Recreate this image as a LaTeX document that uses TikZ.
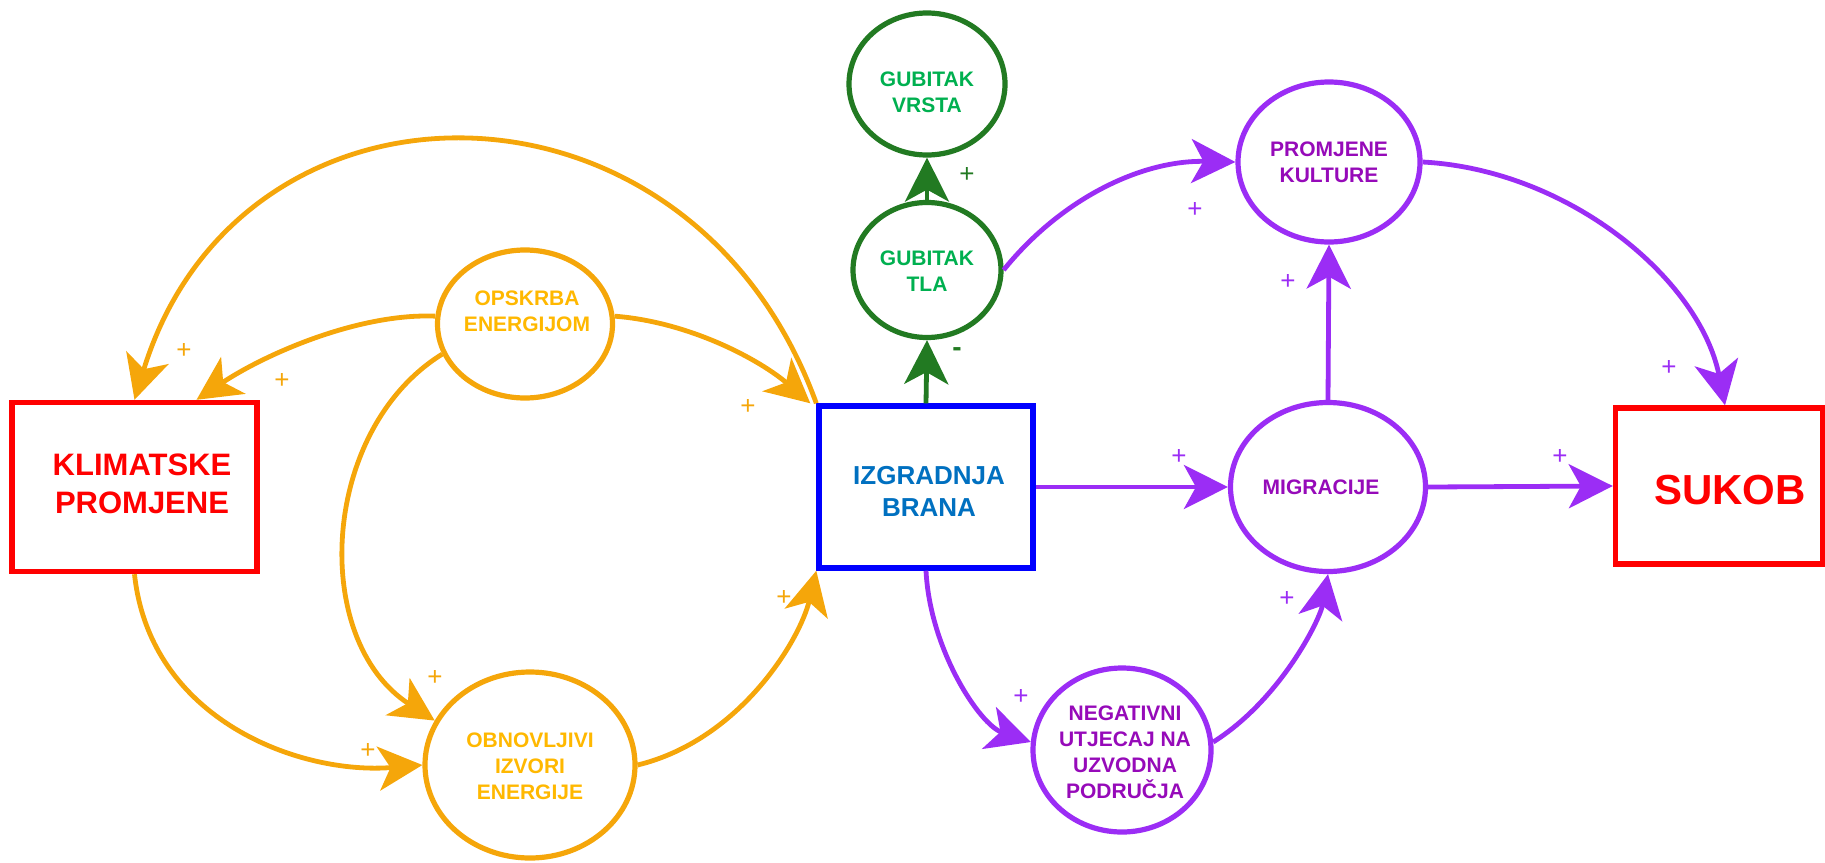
\documentclass[tikz,border=0pt]{standalone}
\usepackage{fontspec}
\setmainfont{Liberation Sans}
\usetikzlibrary{shapes.geometric,arrows.meta}
\definecolor{org}{RGB}{245,166,10}
\definecolor{orgtxt}{RGB}{255,184,0}
\definecolor{grn}{RGB}{34,122,34}
\definecolor{grntxt}{RGB}{0,176,80}
\definecolor{pur}{RGB}{155,45,245}
\definecolor{purtxt}{RGB}{150,10,185}
\definecolor{blu}{RGB}{0,0,255}
\definecolor{blutxt}{RGB}{0,112,192}
\definecolor{rd}{RGB}{255,0,0}
\begin{document}
\begin{tikzpicture}[x=0.5pt,y=-0.5pt,
 ell/.style={ellipse, draw, line width=2.6pt, inner sep=0pt, fill=white},
 boxnode/.style={rectangle, draw, line width=2.7pt, inner sep=0pt, fill=white},
 txt/.style={font=\bfseries\fontsize{10.5}{13}\selectfont, align=center, inner sep=0pt},
 conn/.style={line width=2.4pt, -{Stealth[length=22pt,width=22pt,inset=6pt]}},
 sign/.style={font=\fontsize{13}{13}\selectfont, inner sep=0pt},
]
\useasboundingbox (0,0) rectangle (1825,862);

% boxes
\node[boxnode, draw=rd, minimum width=122.5pt, minimum height=84.5pt] (klima) at (134.5,487) {};
\node[boxnode, draw=blu, minimum width=107pt, minimum height=81pt] (izgr) at (926,487) {};
\node[boxnode, draw=rd, minimum width=103.5pt, minimum height=78pt] (sukob) at (1719,486) {};

% ellipses
\node[ell, draw=grn, minimum width=78pt, minimum height=71pt] (vrsta) at (927,84) {};
\node[ell, draw=grn, minimum width=74pt, minimum height=67.5pt] (tla) at (927,270) {};
\node[ell, draw=org, minimum width=87.5pt, minimum height=74pt] (opskrba) at (525,324) {};
\node[ell, draw=org, minimum width=105pt, minimum height=93pt] (obnov) at (530,765) {};
\node[ell, draw=pur, minimum width=89pt, minimum height=82pt] (negat) at (1122,750) {};
\node[ell, draw=pur, minimum width=91pt, minimum height=80pt] (kultur) at (1329,162) {};
\node[ell, draw=pur, minimum width=97.5pt, minimum height=84.5pt] (migr) at (1328,487) {};

% texts
\node[txt, text=rd, font=\bfseries\fontsize{15.5}{19}\selectfont] (klimaT) at (142,484) {KLIMATSKE\\PROMJENE};
\node[txt, text=blutxt, font=\bfseries\fontsize{13}{16}\selectfont] (izgrT) at (929,491) {IZGRADNJA\\BRANA};
\node[txt, text=rd, font=\bfseries\fontsize{21}{24}\selectfont] (sukobT) at (1730,490) {SUKOB};
\node[txt, text=grntxt] (vrstaT) at (927,92) {GUBITAK\\VRSTA};
\node[txt, text=grntxt] (tlaT) at (927,271) {GUBITAK\\TLA};
\node[txt, text=orgtxt] (opskrbaT) at (527,311) {OPSKRBA\\ENERGIJOM};
\node[txt, text=orgtxt] (obnovT) at (530,766) {OBNOVLJIVI\\IZVORI\\ENERGIJE};
\node[txt, text=purtxt] (negatT) at (1125,752) {NEGATIVNI\\UTJECAJ NA\\UZVODNA\\PODRUČJA};
\node[txt, text=purtxt] (kulturT) at (1329,162) {PROMJENE\\KULTURE};
\node[txt, text=purtxt] (migrT) at (1321,487) {MIGRACIJE};

% orange connectors
\draw[conn, org] (izgr.north west) .. controls (690,55) and (240,55) .. (klima.north);
\draw[conn, org] (opskrba.175) .. controls (360,313) and (267,353) .. ([xshift=31pt]klima.north);
\draw[conn, org] (opskrba.5) .. controls (690,322) and (760,360) .. ([xshift=-3pt]izgr.north west);
\draw[conn, org] (opskrba.200) .. controls (320,430) and (310,640) .. (obnov.155);
\draw[conn, org] (klima.south) .. controls (150,720) and (300,775) .. (obnov.west);
\draw[conn, org] (obnov.east) .. controls (740,740) and (800,640) .. (izgr.south west);

% green connectors
\draw[conn, grn] (izgr.north) -- (tla.south);
\draw[conn, grn] (tla.north) -- (vrsta.south);

% purple connectors
\draw[conn, pur] (tla.east) .. controls (1060,200) and (1140,160) .. (kultur.west);
\draw[conn, pur] (kultur.east) .. controls (1570,170) and (1700,280) .. ([xshift=3pt]sukob.north);
\draw[conn, pur] (migr.north) -- (kultur.south);
\draw[conn, pur] (izgr.east) -- (migr.west);
\draw[conn, pur] (migr.east) -- (sukob.west);
\draw[conn, pur] (izgr.south) .. controls (930,650) and (980,725) .. (negat.175);
\draw[conn, pur] (negat.5) .. controls (1280,700) and (1320,620) .. (migr.south);

% signs
\node[sign, text=org] (s1) at (184,351) {+};
\node[sign, text=org] (s2) at (282,381) {+};
\node[sign, text=org] (s3) at (748,407) {+};
\node[sign, text=org] (s4) at (435,678) {+};
\node[sign, text=org] (s5) at (368,751) {+};
\node[sign, text=org] (s6) at (784,598) {+};
\node[sign, text=grn] (s7) at (967,175) {+};
\node[sign, text=grn, font=\bfseries\fontsize{14}{14}\selectfont] (s8) at (957,352) {-};
\node[sign, text=pur] (s9) at (1195,210) {+};
\node[sign, text=pur] (s10) at (1669,368) {+};
\node[sign, text=pur] (s11) at (1288,282) {+};
\node[sign, text=pur] (s12) at (1179,457) {+};
\node[sign, text=pur] (s13) at (1560,457) {+};
\node[sign, text=pur] (s14) at (1021,697) {+};
\node[sign, text=pur] (s15) at (1287,599) {+};
\end{tikzpicture}
\end{document}
